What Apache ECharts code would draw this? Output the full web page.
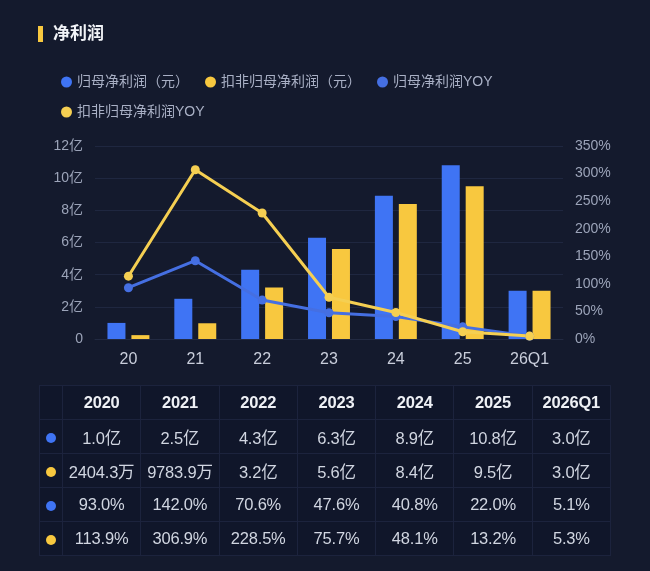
<!DOCTYPE html>
<html>
<head>
<meta charset="utf-8">
<title>净利润</title>
<script src="https://cdn.jsdelivr.net/npm/echarts@6/dist/echarts.min.js"></script>
<style>
  html, body { margin: 0; padding: 0; background: #141a2d; }
  body { width: 650px; height: 571px; position: relative; overflow: hidden; font-family: "Liberation Sans", "Noto Sans CJK SC", sans-serif; }
  #chart { position: absolute; left: 0; top: 0; width: 650px; height: 571px; }
  #tbl { position: absolute; left: 39px; top: 385px; width: 572px; border-collapse: collapse; table-layout: fixed; }
  #tbl td { border: 1px solid #1c233d; background: #10162a; color: #d1d6e1; font-size: 16.5px; text-align: center; height: 33px; padding: 0; white-space: nowrap; letter-spacing: -0.2px; }
  #tbl tr.head td { color: #eef0f5; font-weight: bold; }
  #tbl td.dot { width: 22px; }
  #tbl td.dot span { display: inline-block; width: 10px; height: 10px; border-radius: 50%; vertical-align: middle; }
</style>
</head>
<body>
<div id="chart"></div>
<table id="tbl"></table>
<script>
// 年份
var categories = ['20', '21', '22', '23', '24', '25', '26Q1'];
var years = ['2020', '2021', '2022', '2023', '2024', '2025', '2026Q1'];
// 单位：亿
var netProfit = [1.0, 2.5, 4.3, 6.3, 8.9, 10.8, 3.0];
var deductProfit = [0.24043, 0.97839, 3.2, 5.6, 8.4, 9.5, 3.0];
// 单位：%
var netYoy = [93.0, 142.0, 70.6, 47.6, 40.8, 22.0, 5.1];
var deductYoy = [113.9, 306.9, 228.5, 75.7, 48.1, 13.2, 5.3];
var seriesNames = ['归母净利润（元）', '扣非归母净利润（元）', '归母净利润YOY', '扣非归母净利润YOY'];

var blue = '#3f74f4';
var yellow = '#f8c83f';
var fontName = '"Liberation Sans", "Noto Sans CJK SC"';

function moneyStr(v) {
  if (v < 1) {
    return (v * 10000).toFixed(1) + '万';
  }
  return v.toFixed(1) + '亿';
}

var myChart = echarts.init(document.getElementById('chart'));
var option = {
  backgroundColor: '#141a2d',
  textStyle: { fontFamily: fontName },
  graphic: [
    { type: 'rect', left: 38, top: 26, shape: { width: 5, height: 16 }, style: { fill: yellow } },
    { type: 'text', left: 53, top: 24, style: { text: '净利润', fill: '#f2f4f8', font: 'bold 17px "Noto Sans CJK SC"' } }
  ],
  legend: {
    left: 56,
    top: 70,
    width: 480,
    icon: 'circle',
    itemWidth: 11,
    itemHeight: 11,
    itemGap: 16,
    textStyle: { color: '#a9b0c5', fontSize: 14, padding: [0, 13, 0, 0] },
    data: seriesNames
  },
  grid: { left: 95, right: 87, top: 146, bottom: 232 },
  xAxis: {
    type: 'category',
    data: categories,
    axisTick: { show: false },
    axisLine: { lineStyle: { color: '#222a42' } },
    axisLabel: { color: '#c9cedb', fontSize: 16, margin: 13 }
  },
  yAxis: [
    {
      type: 'value',
      min: 0,
      max: 12,
      interval: 2,
      axisLabel: {
        color: '#9ca4b9', fontSize: 14, margin: 12,
        formatter: function(v) { return v === 0 ? '0' : v + '亿'; }
      },
      splitLine: { lineStyle: { color: '#1f2740' } }
    },
    {
      type: 'value',
      min: 0,
      max: 350,
      interval: 50,
      axisLabel: { color: '#9ca4b9', fontSize: 14, margin: 12, formatter: '{value}%' },
      splitLine: { show: false }
    }
  ],
  series: [
    {
      name: seriesNames[0], type: 'bar', data: netProfit,
      barWidth: 18, barGap: '33%',
      itemStyle: { color: blue }
    },
    {
      name: seriesNames[1], type: 'bar', data: deductProfit,
      barWidth: 18,
      itemStyle: { color: yellow }
    },
    {
      name: seriesNames[2], type: 'line', yAxisIndex: 1, data: netYoy,
      symbol: 'circle', symbolSize: 9,
      lineStyle: { color: '#456fe2', width: 3 },
      itemStyle: { color: '#456fe2' }
    },
    {
      name: seriesNames[3], type: 'line', yAxisIndex: 1, data: deductYoy,
      symbol: 'circle', symbolSize: 9,
      lineStyle: { color: '#f5cf52', width: 3 },
      itemStyle: { color: '#f5cf52' }
    }
  ]
};
myChart.setOption(option);

// 下方数据表
var rows = [
  { color: blue, cells: netProfit.map(moneyStr) },
  { color: yellow, cells: deductProfit.map(moneyStr) },
  { color: blue, cells: netYoy.map(function(v) { return v.toFixed(1) + '%'; }) },
  { color: yellow, cells: deductYoy.map(function(v) { return v.toFixed(1) + '%'; }) }
];
var html = '<tr class="head"><td class="dot"></td>';
years.forEach(function(y) { html += '<td>' + y + '</td>'; });
html += '</tr>';
rows.forEach(function(r) {
  html += '<tr><td class="dot"><span style="background:' + r.color + '"></span></td>';
  r.cells.forEach(function(c) { html += '<td>' + c + '</td>'; });
  html += '</tr>';
});
document.getElementById('tbl').innerHTML = html;
</script>
</body>
</html>
